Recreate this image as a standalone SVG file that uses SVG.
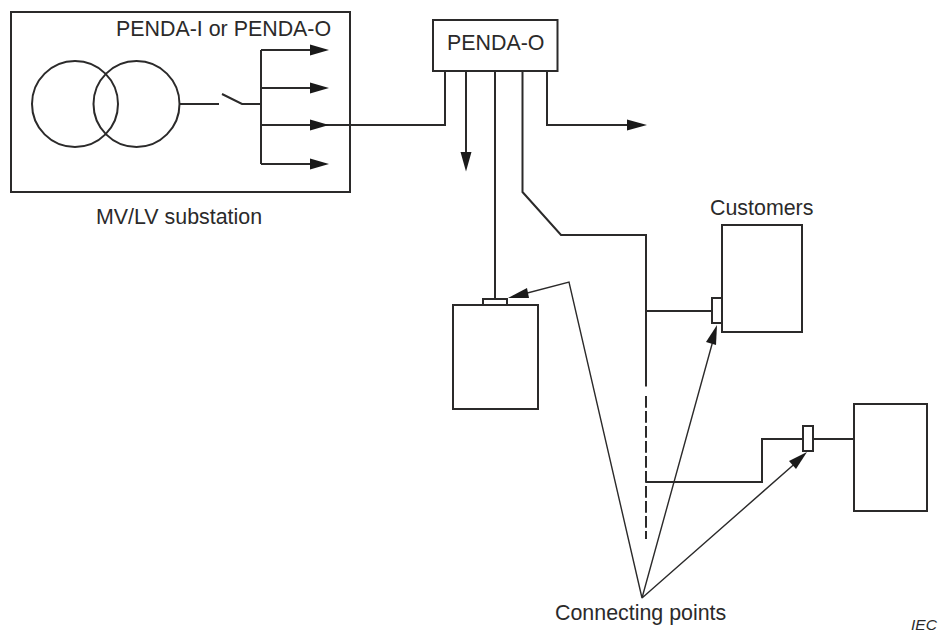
<svg xmlns="http://www.w3.org/2000/svg" width="938" height="632" viewBox="0 0 938 632">
<style>
.l{fill:none;stroke:#2b2a2a;stroke-width:2}
.t{fill:none;stroke:#2b2a2a;stroke-width:1.4}
.b{fill:#fff;stroke:#2b2a2a;stroke-width:2}
.h{fill:#1a1a1a;stroke:none}
text{font-family:"Liberation Sans",Arial,sans-serif;font-size:21.400px;fill:#2b2a2a}
</style>
<rect width="938" height="632" fill="#fff"/>
<g id="connectors">
<path class="l" d="M180 104H219M222 94L242 104H261M261 50V164M261 50H312M261 88H312M261 125H445V71M261 164H312"/>
<path class="l" d="M466 71V154M495 71V299M522.500 71V192L561 235H646V386.500M646 311H712"/>
<path class="l" d="M646 396V539" stroke-dasharray="11.700 3.300"/>
<path class="l" d="M547 71V125H629M646 482H762V439H803M813 439H854"/>
<path class="t" d="M512 297L569 282L642 598L714 337M642 598L799 460"/>
<polygon class="h" points="310,44.500 329,50 310,55.500"/>
<polygon class="h" points="310,82.500 329,88 310,93.500"/>
<polygon class="h" points="310,119.500 329,125 310,130.500"/>
<polygon class="h" points="310,158.500 329,164 310,169.500"/>
<polygon class="h" points="627,119.500 647,125 627,130.500"/>
<polygon class="h" points="460.500,152 471.500,152 466,171.500"/>
<polygon class="h" points="508,298 527,288 529,298"/>
<polygon class="h" points="717,325 716,345 706,342"/>
<polygon class="h" points="807,452 796,469 789,461"/>
</g>
<g id="substation">
<rect class="l" x="11" y="12" width="339" height="180"/>
<circle class="l" cx="75" cy="104" r="43"/>
<circle class="l" cx="136.500" cy="104" r="43"/>
<text x="116" y="36">PENDA-I or PENDA-O</text>
<text x="96" y="224">MV/LV substation</text>
</g>
<g id="penda-o">
<rect class="b" x="433" y="20" width="124.500" height="51"/>
<text x="447" y="50">PENDA-O</text>
</g>
<g id="customer-left">
<rect class="l" x="453" y="305" width="85" height="104"/>
<rect class="b" x="483" y="299" width="24" height="6"/>
</g>
<g id="customer-mid">
<rect class="l" x="722" y="225" width="80" height="107"/>
<rect class="b" x="712" y="298" width="10" height="25"/>
<text x="710" y="215">Customers</text>
</g>
<g id="customer-right">
<rect class="l" x="854" y="404" width="73" height="107"/>
<rect class="b" x="803" y="426" width="10" height="25"/>
</g>
<text x="555" y="620">Connecting points</text>
<text x="911" y="630" style="font-size:15.500px;font-style:italic">IEC</text>
</svg>
